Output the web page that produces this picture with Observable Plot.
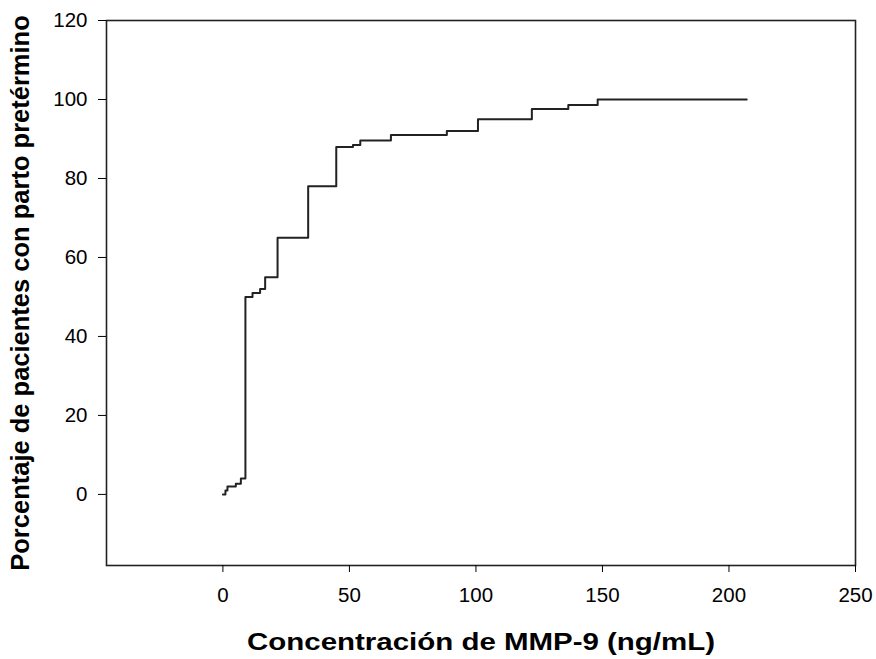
<!DOCTYPE html>
<html>
<head>
<meta charset="utf-8">
<script src="https://cdn.jsdelivr.net/npm/d3@7"></script>
<script src="https://cdn.jsdelivr.net/npm/@observablehq/plot@0.6"></script>
<style>
  html, body { margin: 0; padding: 0; background: #fff; }
  #chart svg { display: block; }
</style>
</head>
<body>
<div id="chart"></div>
<script>
// Concentración de MMP-9 (ng/mL) at each step of the cumulative curve
const concentracion = [0, 1, 1.8, 5.1, 7.1, 8.9, 11.7, 14.7, 16.7, 21.6, 33.7, 44.8, 51.4, 54.3, 66.4, 88.5, 100.8, 122.1, 136.5, 148.1, 207];
// Porcentaje de pacientes con parto pretérmino
const porcentaje = [0, 1, 2, 2.7, 4, 50, 51, 52, 55, 65, 78, 88, 88.5, 89.6, 91, 92, 95, 97.6, 98.6, 100, 100];

const xTicks = [0, 50, 100, 150, 200, 250];
const yTicks = [0, 20, 40, 60, 80, 100, 120];

const xLabel = "Concentración de MMP-9 (ng/mL)";
const yLabel = "Porcentaje de pacientes con parto pretérmino";

const data = concentracion.map((c, i) => ({x: c, y: porcentaje[i]}));

const chart = Plot.plot({
  width: 876,
  height: 659,
  marginLeft: 106,
  marginRight: 21,
  marginTop: 20,
  marginBottom: 94,
  style: {fontFamily: "'Liberation Sans', Arial, sans-serif", color: "#000", background: "#fff"},
  x: {domain: [-46, 250]},
  y: {domain: [-18, 120]},
  marks: [
    Plot.frame({stroke: "#222", strokeWidth: 1.6}),
    Plot.axisX({
      ticks: xTicks, tickSize: 7, tickPadding: 15, fontSize: 20.5,
      tickFormat: d => String(d),
      label: xLabel, labelAnchor: "center", labelArrow: "none", labelOffset: 84
    }),
    Plot.axisY({
      ticks: yTicks, tickSize: 8, tickPadding: 11, fontSize: 20.5,
      tickFormat: d => String(d),
      label: yLabel, labelAnchor: "center", labelArrow: "none", labelOffset: 96
    }),
    Plot.line(data, {x: "x", y: "y", curve: "step-after", stroke: "#222", strokeWidth: 2})
  ]
});

document.getElementById("chart").appendChild(chart);

// tick label size and axis title styling after render
chart.querySelectorAll('g[aria-label="x-axis tick label"], g[aria-label="y-axis tick label"]').forEach(g => {
  g.setAttribute("font-size", "20.5");
});
chart.querySelectorAll("text").forEach(t => {
  const s = t.textContent;
  if (s === xLabel) {
    t.setAttribute("font-size", "24");
    t.setAttribute("font-weight", "bold");
    t.setAttribute("textLength", "468");
    t.setAttribute("lengthAdjust", "spacingAndGlyphs");
  } else if (s === yLabel) {
    t.setAttribute("font-size", "25.5");
    t.setAttribute("font-weight", "bold");
  }
});
</script>
</body>
</html>
